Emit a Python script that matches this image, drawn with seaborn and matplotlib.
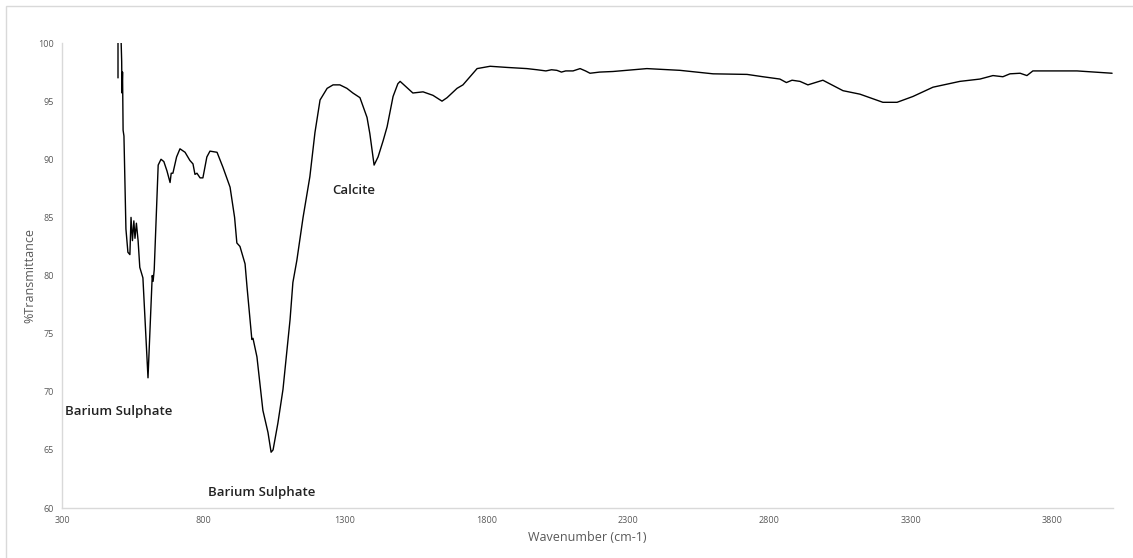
import pandas as pd
import seaborn as sns
import matplotlib.pyplot as plt
from matplotlib.patches import Rectangle

# FTIR spectrum
wavenumber = [
    498, 498, 508, 511, 512, 514, 516, 519, 526, 533, 540, 544, 549, 554,
    558, 563, 569, 575, 586, 596, 604, 612, 619, 622, 626, 640, 650, 660,
    671, 682, 686, 692, 705, 717, 735, 752, 763, 770, 777, 788, 798, 812,
    823, 848, 869, 894, 910, 918, 929, 947, 954, 971, 975, 989, 1010, 1028,
    1039, 1046, 1063, 1081, 1106, 1116, 1130, 1152, 1176, 1194, 1212, 1237,
    1258, 1282, 1307, 1328, 1353, 1378, 1388, 1403, 1417, 1435, 1449, 1470,
    1487, 1495, 1540, 1576, 1611, 1643, 1661, 1696, 1717, 1767, 1813, 1873,
    1943, 1979, 2010, 2030, 2049, 2065, 2080, 2106, 2131, 2150, 2166, 2200,
    2247, 2367, 2484, 2601, 2721, 2777, 2837, 2860, 2880, 2908, 2936, 2989,
    3060, 3120, 3201, 3251, 3307, 3378, 3473, 3544, 3590, 3625, 3650, 3686,
    3710, 3731, 3887, 4011,
]
transmittance = [
    97.0, 101.0, 101.0, 98.4, 95.7, 97.5, 92.5, 92.0, 84.0, 82.0, 81.8, 85.0,
    83.0, 84.7, 83.2, 84.5, 83.0, 80.7, 79.8, 75.0, 71.2, 76.0, 80.0, 79.5,
    80.5, 89.5, 90.0, 89.8, 89.0, 88.0, 88.8, 88.8, 90.2, 90.9, 90.6, 89.9,
    89.6, 88.7, 88.8, 88.4, 88.4, 90.2, 90.7, 90.6, 89.3, 87.6, 85.0, 82.8,
    82.5, 81.0, 79.0, 74.5, 74.6, 73.0, 68.4, 66.5, 64.8, 65.0, 67.3, 70.2,
    76.2, 79.4, 81.3, 85.0, 88.5, 92.3, 95.1, 96.1, 96.4, 96.4, 96.1, 95.7,
    95.3, 93.6, 92.2, 89.5, 90.2, 91.6, 92.8, 95.4, 96.5, 96.7, 95.7, 95.8,
    95.5, 95.0, 95.3, 96.1, 96.4, 97.8, 98.0, 97.9, 97.8, 97.7, 97.6, 97.7,
    97.65, 97.5, 97.6, 97.6, 97.8, 97.6, 97.4, 97.5, 97.55, 97.8, 97.65,
    97.35, 97.3, 97.1, 96.9, 96.6, 96.8, 96.7, 96.4, 96.8, 95.9, 95.6, 94.9,
    94.9, 95.4, 96.2, 96.7, 96.9, 97.2, 97.1, 97.35, 97.4, 97.2, 97.6, 97.6,
    97.4,
]

labels = ['Barium Sulphate', 'Barium Sulphate', 'Calcite']
label_x = [311, 816, 1254]
label_y = [68.3, 61.3, 87.3]

df = pd.DataFrame({'Wavenumber': wavenumber, 'T': transmittance})

sns.set_theme(style='white')
plt.rcParams['font.family'] = ['Open Sans', 'DejaVu Sans']

fig = plt.figure(figsize=(11.33, 5.58), dpi=100)
ax = fig.add_axes([0.0547, 0.0896, 0.9276, 0.8333])

sns.lineplot(data=df, x='Wavenumber', y='T', sort=False, estimator=None,
             color='black', linewidth=1.0, ax=ax)

ax.set_xlim(300, 4014)
ax.set_ylim(60, 100)
ax.set_xticks(range(300, 4000, 500))
ax.set_yticks(range(60, 101, 5))
ax.tick_params(axis='both', labelsize=6.5, labelcolor='#595959', length=0, pad=6)

ax.set_xlabel('Wavenumber (cm-1)', fontsize=9, color='#595959', labelpad=4)
ax.set_ylabel('%Transmittance', fontsize=9, color='#595959', labelpad=1)

for side in ['top', 'right']:
    ax.spines[side].set_visible(False)
for side in ['left', 'bottom']:
    ax.spines[side].set_color('#d9d9d9')
    ax.spines[side].set_linewidth(1)

for text, x, y in zip(labels, label_x, label_y):
    ax.text(x, y, text, fontsize=9.5, fontweight='semibold', color='#222222',
            ha='left', va='center')

fig.patches.append(Rectangle((6 / 1133, -0.01), 1.02, 1 - 6 / 558 + 0.01,
                             transform=fig.transFigure, fill=False,
                             edgecolor='#d9d9d9', linewidth=1))

fig.savefig('out.png', dpi=100)
